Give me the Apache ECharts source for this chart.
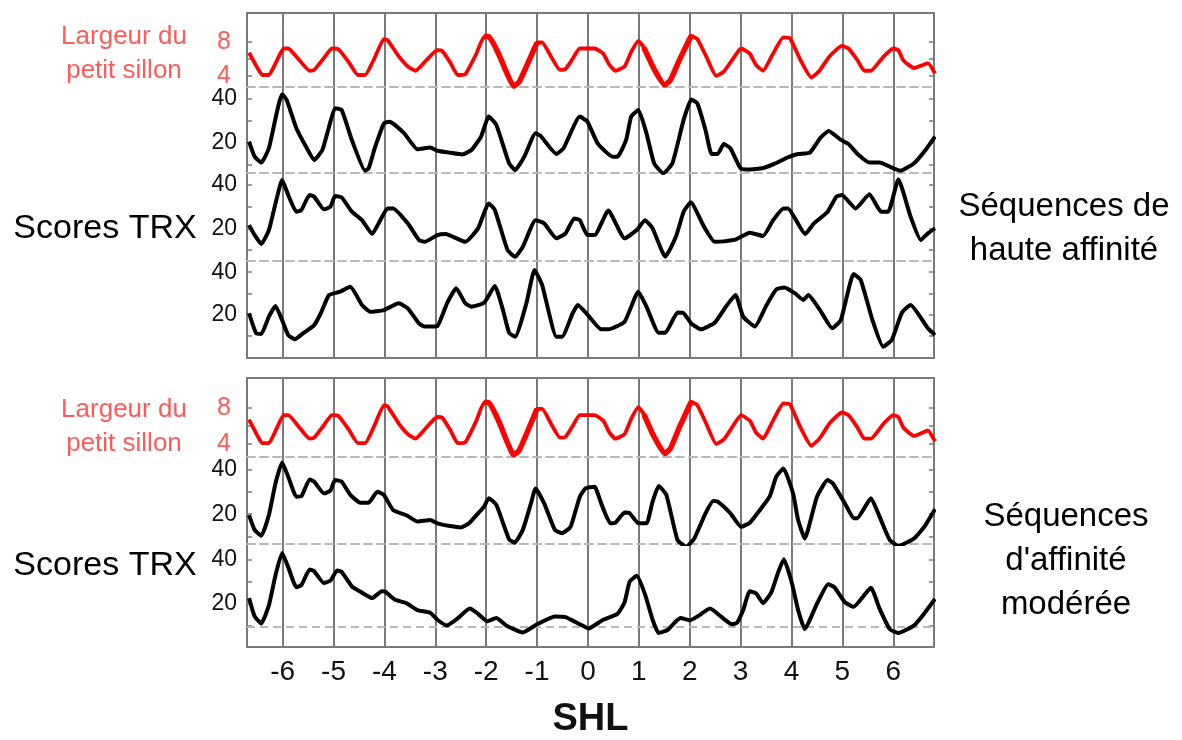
<!DOCTYPE html>
<html>
<head>
<meta charset="utf-8">
<script src="https://cdn.jsdelivr.net/npm/echarts@6/dist/echarts.min.js"></script>
<style>
  html, body { margin: 0; padding: 0; background: #fff; }
  #chart { width: 1182px; height: 740px; }
</style>
</head>
<body>
<div id="chart"></div>
<script>
// tick labels
var shlLabels = [-6, -5, -4, -3, -2, -1, 0, 1, 2, 3, 4, 5, 6];
var grooveLabels = [4, 8];
var grooveTicks = [4, 6, 8];
var trxLabels = [20, 40];
var trxTicks = [10, 20, 30, 40];

// largeur du petit sillon (same curve in both panels), [SHL, value]
var grooveWidth = [
    [-6.66, 6.7], [-6.52, 5.2], [-6.4, 4.1], [-6.27, 4.1], [-6.12, 5.7], [-5.98, 7.2], [-5.89, 7.2],
    [-5.68, 5.9], [-5.47, 4.6], [-5.38, 4.7], [-5.2, 6.0], [-5.03, 7.2], [-4.9, 7.1], [-4.7, 5.6],
    [-4.52, 4.1], [-4.38, 4.1], [-4.2, 6.0], [-4.01, 8.3], [-3.94, 8.2], [-3.72, 6.3], [-3.54, 5.1],
    [-3.39, 4.6], [-3.18, 5.8], [-2.96, 7.0], [-2.86, 6.9], [-2.7, 5.5], [-2.56, 4.1], [-2.41, 4.2],
    [-2.2, 6.5], [-2.04, 8.6], [-1.95, 8.6], [-1.75, 6.5], [-1.6, 4.4], [-1.46, 2.8], [-1.35, 3.3],
    [-1.18, 5.5], [-1.0, 7.9], [-0.9, 7.9], [-0.72, 6.2], [-0.55, 4.7], [-0.44, 4.8], [-0.3, 6.0],
    [-0.16, 7.2], [0.13, 7.2], [0.3, 6.6], [0.42, 5.3], [0.54, 4.6], [0.72, 5.1], [0.85, 6.8],
    [0.99, 8.1], [1.1, 7.3], [1.3, 4.8], [1.51, 2.95], [1.62, 3.5], [1.8, 5.9], [2.03, 8.7],
    [2.15, 8.3], [2.33, 6.2], [2.52, 4.0], [2.67, 4.5], [2.85, 6.0], [3.01, 7.2], [3.18, 6.6],
    [3.3, 5.3], [3.44, 4.6], [3.62, 6.4], [3.84, 8.5], [3.97, 8.4], [4.18, 5.8], [4.39, 3.8],
    [4.55, 4.6], [4.75, 6.3], [4.99, 7.5], [5.12, 7.2], [5.3, 5.8], [5.43, 4.6], [5.56, 4.6],
    [5.8, 6.2], [6.0, 7.2], [6.1, 7.0], [6.2, 5.8], [6.41, 4.9], [6.55, 5.2], [6.68, 5.5], [6.82, 4.3]
];

// scores TRX, séquences de haute affinité
var trxHigh1 = [
    [-6.66, 20.6], [-6.55, 13.8], [-6.42, 11.1], [-6.27, 17.6], [-6.01, 42.1], [-5.92, 39.5],
    [-5.73, 26.7], [-5.54, 18.3], [-5.38, 12.3], [-5.22, 16.8], [-5.06, 29.7], [-4.97, 35.8],
    [-4.84, 35.0], [-4.64, 21.4], [-4.38, 7.4], [-4.31, 8.4], [-4.18, 18.3], [-4.01, 28.9],
    [-3.9, 29.7], [-3.61, 24.4], [-3.35, 17.1], [-3.1, 17.9], [-2.96, 16.5], [-2.71, 15.6],
    [-2.47, 14.8], [-2.29, 16.8], [-2.1, 22.9], [-1.95, 32.0], [-1.8, 28.2], [-1.55, 10.8],
    [-1.43, 7.7], [-1.25, 13.8], [-1.03, 24.4], [-0.93, 23.2], [-0.62, 15.0], [-0.48, 17.6],
    [-0.16, 32.0], [-0.01, 29.7], [0.19, 19.8], [0.48, 13.8], [0.58, 13.8], [0.75, 21.4],
    [0.85, 32.0], [0.99, 35.0], [1.15, 24.4], [1.3, 10.8], [1.48, 6.2], [1.66, 10.8], [1.88, 30.5],
    [2.03, 39.8], [2.15, 38.0], [2.31, 25.9], [2.43, 15.0], [2.55, 15.0], [2.67, 19.5], [2.8, 17.6],
    [3.0, 8.5], [3.18, 8.0], [3.42, 8.5], [3.66, 10.5], [3.93, 13.5], [4.13, 15.0], [4.36, 15.6],
    [4.56, 22.1], [4.73, 25.5], [4.97, 21.4], [5.12, 19.5], [5.32, 14.5], [5.53, 11.1], [5.73, 11.1],
    [6.0, 8.5], [6.14, 7.4], [6.41, 10.8], [6.61, 16.1], [6.82, 22.9]
];
var trxHigh2 = [
    [-6.66, 21.5], [-6.55, 16.9], [-6.42, 12.8], [-6.27, 19.2], [-6.14, 31.5], [-6.01, 42.3],
    [-5.89, 35.4], [-5.73, 27.7], [-5.63, 28.5], [-5.47, 35.4], [-5.38, 34.6], [-5.19, 28.8],
    [-5.06, 30.0], [-4.97, 34.9], [-4.84, 34.3], [-4.64, 27.7], [-4.44, 23.8], [-4.24, 17.4],
    [-4.08, 23.8], [-3.94, 29.2], [-3.83, 29.2], [-3.54, 22.3], [-3.32, 14.6], [-3.21, 13.8],
    [-2.96, 16.9], [-2.8, 17.4], [-2.41, 13.8], [-2.16, 20.0], [-1.95, 31.5], [-1.83, 28.5],
    [-1.58, 10.0], [-1.43, 6.9], [-1.28, 11.5], [-1.03, 23.8], [-0.86, 22.3], [-0.62, 15.4],
    [-0.44, 17.7], [-0.27, 24.6], [-0.16, 23.8], [-0.01, 16.9], [0.13, 16.9], [0.4, 28.2],
    [0.72, 15.4], [0.96, 19.2], [1.12, 23.8], [1.27, 20.0], [1.52, 6.9], [1.73, 16.2], [1.88, 27.7],
    [2.02, 32.0], [2.28, 20.8], [2.49, 13.8], [2.67, 14.0], [2.91, 14.9], [3.18, 18.0], [3.44, 16.5],
    [3.64, 23.8], [3.84, 29.2], [3.93, 29.2], [4.27, 17.4], [4.44, 22.3], [4.71, 27.7], [4.88, 34.6],
    [4.99, 35.4], [5.26, 29.2], [5.53, 35.8], [5.76, 27.7], [5.9, 27.7], [6.1, 42.6], [6.34, 25.4],
    [6.54, 14.6], [6.68, 17.7], [6.82, 20.0]
];
var trxHigh3 = [
    [-6.66, 20.6], [-6.52, 11.1], [-6.42, 10.8], [-6.27, 19.0], [-6.14, 24.0], [-6.01, 17.4],
    [-5.89, 10.3], [-5.76, 8.3], [-5.6, 11.1], [-5.38, 15.0], [-5.25, 20.6], [-5.09, 29.2],
    [-4.87, 30.8], [-4.67, 33.1], [-4.44, 24.5], [-4.28, 21.3], [-4.01, 22.1], [-3.72, 25.3],
    [-3.54, 22.9], [-3.32, 15.8], [-3.21, 14.3], [-2.96, 14.6], [-2.77, 25.3], [-2.59, 32.4],
    [-2.41, 25.3], [-2.29, 23.7], [-2.04, 25.6], [-1.83, 33.5], [-1.67, 22.1], [-1.55, 11.4],
    [-1.43, 9.5], [-1.21, 25.3], [-1.05, 41.0], [-0.9, 33.9], [-0.62, 9.5], [-0.51, 9.5],
    [-0.3, 20.6], [-0.2, 24.5], [-0.01, 20.0], [0.26, 13.0], [0.4, 13.0], [0.72, 16.6],
    [0.99, 30.8], [1.15, 23.7], [1.39, 11.4], [1.52, 11.4], [1.76, 20.9], [1.88, 20.6], [2.03, 15.8],
    [2.22, 13.0], [2.49, 16.1], [2.71, 23.7], [2.9, 29.2], [3.05, 19.0], [3.28, 14.3], [3.51, 24.5],
    [3.7, 31.9], [3.86, 32.8], [4.07, 30.0], [4.23, 26.9], [4.33, 29.2], [4.56, 22.1], [4.8, 13.5],
    [4.97, 17.4], [5.22, 39.1], [5.36, 36.3], [5.59, 17.4], [5.8, 4.8], [5.97, 8.0], [6.17, 20.9],
    [6.34, 24.5], [6.68, 13.5], [6.82, 10.3]
];

// scores TRX, séquences d'affinité modérée
var trxMod1 = [
    [-6.66, 19.6], [-6.55, 13.0], [-6.42, 10.4], [-6.27, 19.6], [-6.14, 33.8], [-6.01, 43.1],
    [-5.89, 36.7], [-5.73, 27.8], [-5.63, 28.0], [-5.47, 35.5], [-5.38, 34.5], [-5.19, 29.3],
    [-5.06, 30.5], [-4.97, 35.2], [-4.84, 34.5], [-4.67, 28.6], [-4.47, 25.1], [-4.31, 25.1],
    [-4.14, 30.0], [-4.01, 28.6], [-3.83, 21.9], [-3.54, 19.2], [-3.35, 16.7], [-3.1, 17.4],
    [-2.96, 15.9], [-2.71, 14.7], [-2.5, 14.1], [-2.34, 15.9], [-2.16, 20.4], [-2.04, 23.4],
    [-1.95, 27.1], [-1.8, 24.1], [-1.55, 8.8], [-1.44, 7.3], [-1.28, 13.0], [-1.12, 24.8],
    [-1.03, 31.5], [-0.86, 24.8], [-0.65, 13.0], [-0.51, 11.5], [-0.34, 14.5], [-0.16, 27.8],
    [-0.05, 31.5], [0.13, 32.2], [0.26, 24.8], [0.44, 15.9], [0.54, 16.2], [0.72, 20.7],
    [0.82, 20.4], [0.99, 15.9], [1.15, 15.9], [1.27, 25.6], [1.39, 32.6], [1.54, 28.6], [1.76, 8.5],
    [1.93, 5.5], [2.09, 9.2], [2.31, 20.4], [2.46, 25.9], [2.55, 25.6], [2.8, 20.4], [3.01, 14.4],
    [3.18, 16.2], [3.38, 21.9], [3.57, 27.8], [3.7, 36.7], [3.84, 40.4], [4.03, 29.3], [4.13, 17.4],
    [4.26, 9.2], [4.5, 27.8], [4.71, 35.2], [4.81, 33.8], [5.05, 24.8], [5.22, 18.2], [5.29, 18.2],
    [5.56, 27.1], [5.73, 18.9], [5.93, 8.5], [6.1, 5.8], [6.41, 9.2], [6.61, 14.4], [6.82, 22.2]
];
var trxMod2 = [
    [-6.66, 22.5], [-6.55, 14.1], [-6.42, 10.9], [-6.27, 19.2], [-6.14, 33.0], [-6.01, 43.2],
    [-5.89, 36.7], [-5.73, 27.5], [-5.63, 28.5], [-5.47, 35.6], [-5.38, 34.8], [-5.19, 29.4],
    [-5.06, 30.5], [-4.93, 35.2], [-4.84, 34.5], [-4.64, 27.9], [-4.44, 25.0], [-4.24, 22.5],
    [-4.05, 25.7], [-3.98, 25.4], [-3.79, 21.7], [-3.57, 20.2], [-3.35, 17.0], [-3.1, 15.8],
    [-2.96, 12.6], [-2.77, 10.0], [-2.59, 12.6], [-2.32, 17.7], [-2.16, 15.3], [-1.98, 11.9],
    [-1.8, 13.4], [-1.61, 10.0], [-1.28, 6.8], [-1.0, 10.5], [-0.65, 14.1], [-0.44, 13.8],
    [-0.16, 10.5], [0.01, 8.6], [0.3, 12.6], [0.58, 15.3], [0.72, 20.6], [0.82, 30.1], [0.96, 32.7],
    [1.12, 24.3], [1.27, 12.6], [1.39, 6.5], [1.57, 8.0], [1.73, 11.9], [1.82, 13.4], [2.0, 12.3],
    [2.15, 14.1], [2.4, 17.7], [2.61, 14.1], [2.83, 10.5], [2.93, 11.2], [3.05, 17.0], [3.18, 25.7],
    [3.31, 24.5], [3.44, 20.2], [3.6, 25.0], [3.74, 34.5], [3.85, 40.3], [4.0, 30.1], [4.13, 17.0],
    [4.26, 8.3], [4.5, 19.9], [4.72, 28.9], [4.84, 27.5], [5.05, 20.6], [5.22, 18.5], [5.56, 27.2],
    [5.73, 17.7], [5.93, 8.3], [6.1, 6.5], [6.41, 10.0], [6.61, 15.5], [6.82, 22.1]
];

var FONT = '"Liberation Sans", Arial, sans-serif';
var RED = '#ff0000';
var RED_TEXT = '#ff5a5a';
var FRAME = '#7a7a7a';
var DASH = '#b8b8b8';

// one grid per band: groove band on top, then the TRX bands
var bands = [
    { top: 13, height: 74, min: 2.7, max: 11.35, data: grooveWidth, groove: true, frameTop: true },
    { top: 87, height: 86, min: 6.36, max: 45.45, data: trxHigh1 },
    { top: 173, height: 88, min: 4.94, max: 45.55, data: trxHigh2 },
    { top: 261, height: 97, min: -0.55, max: 45.3, data: trxHigh3, frameBottom: true },
    { top: 378, height: 79, min: 2.56, max: 11.33, data: grooveWidth, groove: true, frameTop: true },
    { top: 457, height: 87, min: 6.7, max: 45.5, data: trxMod1 },
    { top: 544, height: 108, min: 0.1, max: 47.3, data: trxMod2, frameBottom: true, showX: true, extraDash: 9.3 }
];

var grids = [], xAxes = [], yAxes = [], series = [];

bands.forEach(function (b, i) {
    grids.push({ left: 247, right: 248, top: b.top, height: b.height });

    var xi = xAxes.length;
    xAxes.push({
        gridIndex: i,
        type: 'value',
        min: -6.7,
        max: 6.8,
        splitNumber: 14,
        name: b.showX ? 'SHL' : '',
        nameLocation: 'middle',
        nameGap: 54,
        nameTextStyle: { fontFamily: FONT, fontSize: 38, fontWeight: 'bold', color: '#111' },
        axisLine: {
            show: true,
            onZero: false,
            lineStyle: b.frameBottom
                ? { color: FRAME, width: 2 }
                : { color: DASH, width: 2, type: [8, 5] }
        },
        axisTick: { show: false },
        axisLabel: {
            show: !!b.showX,
            customValues: shlLabels,
            fontFamily: FONT,
            fontSize: 28,
            color: '#111',
            margin: 11
        },
        splitLine: { show: true, lineStyle: { color: FRAME, width: 2 } }
    });
    if (b.frameTop) {
        xAxes.push({
            gridIndex: i,
            type: 'value',
            position: 'top',
            min: -6.7,
            max: 6.8,
            axisLine: { show: true, onZero: false, lineStyle: { color: FRAME, width: 2 } },
            axisTick: { show: false },
            axisLabel: { show: false },
            splitLine: { show: false }
        });
    }

    var tickVals = b.groove ? grooveTicks : trxTicks;
    var labelVals = b.groove ? grooveLabels : trxLabels;
    var yi = yAxes.length;
    ['left', 'right'].forEach(function (pos) {
        yAxes.push({
            gridIndex: i,
            type: 'value',
            position: pos,
            min: b.min,
            max: b.max,
            axisLine: { show: true, onZero: false, lineStyle: { color: FRAME, width: 2 } },
            axisTick: {
                show: true,
                inside: true,
                length: 5,
                customValues: tickVals,
                lineStyle: { color: FRAME, width: 1.5 }
            },
            axisLabel: {
                show: pos === 'left',
                customValues: labelVals,
                fontFamily: FONT,
                fontSize: b.groove ? 25 : 23,
                color: b.groove ? RED_TEXT : '#111',
                margin: b.groove ? 16 : 10
            },
            splitLine: { show: false }
        });
    });

    var s = {
        type: 'line',
        xAxisIndex: xi,
        yAxisIndex: yi,
        data: b.data,
        showSymbol: false,
        smooth: 0.15,
        silent: true,
        z: 5,
        lineStyle: { color: b.groove ? RED : '#000', width: b.groove ? 3.8 : 4 }
    };
    if (b.extraDash !== undefined) {
        s.markLine = {
            silent: true,
            symbol: 'none',
            label: { show: false },
            lineStyle: { color: DASH, width: 2, type: [8, 5] },
            data: [{ yAxis: b.extraDash }]
        };
    }
    series.push(s);

    if (b.groove) {
        // the two deep minima are drawn with a heavier stroke
        series.push({
            type: 'line',
            xAxisIndex: xi,
            yAxisIndex: yi,
            data: b.data.map(function (p) {
                var a = Math.abs(p[0]);
                return (a >= 1 && a <= 2.05) ? p : [p[0], '-'];
            }),
            showSymbol: false,
            smooth: 0.15,
            silent: true,
            z: 6,
            lineStyle: { color: RED, width: 5.5 }
        });
    }
});

function label(text, x, y, size, color, lineHeight) {
    return {
        type: 'text',
        x: x,
        y: y,
        silent: true,
        style: {
            text: text,
            fill: color,
            font: size + 'px ' + FONT,
            lineHeight: lineHeight,
            align: 'center',
            verticalAlign: 'middle',
            textAlign: 'center',
            textVerticalAlign: 'middle'
        }
    };
}

var chart = echarts.init(document.getElementById('chart'));
chart.setOption({
    animation: false,
    backgroundColor: '#fff',
    grid: grids,
    xAxis: xAxes,
    yAxis: yAxes,
    series: series,
    graphic: [
        label('Largeur du\npetit sillon', 124, 54, 26, RED_TEXT, 34),
        label('Scores TRX', 105, 229, 34, '#000', 40),
        label('Séquences de\nhaute affinité', 1064, 229, 33, '#000', 44),
        label('Largeur du\npetit sillon', 124, 427, 26, RED_TEXT, 34),
        label('Scores TRX', 105, 566, 34, '#000', 40),
        label('Séquences\nd\'affinité\nmodérée', 1066, 561, 33, '#000', 44)
    ]
});
</script>
</body>
</html>
